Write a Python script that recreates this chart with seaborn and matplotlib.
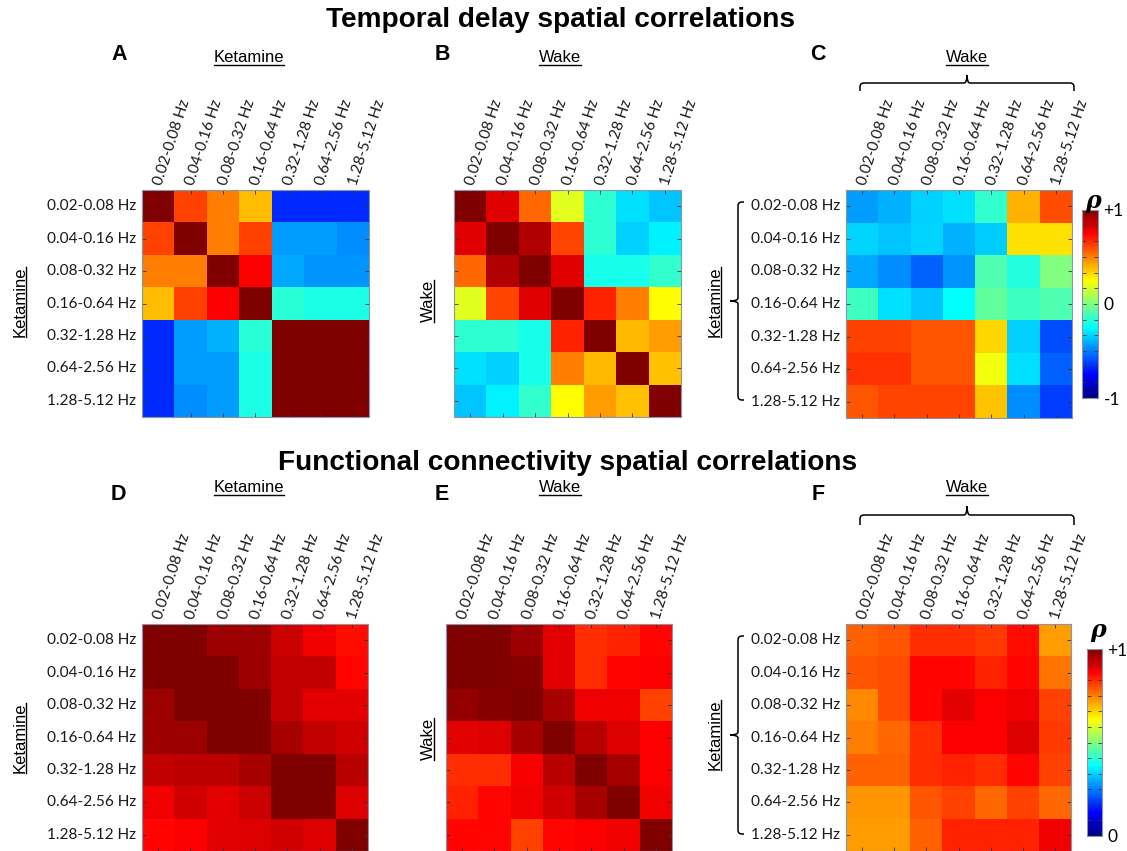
import numpy as np
import pandas as pd
import matplotlib
matplotlib.use("Agg")
import matplotlib.pyplot as plt
import seaborn as sns
from matplotlib.path import Path
from matplotlib.patches import PathPatch
from matplotlib.lines import Line2D
from matplotlib.colors import ListedColormap

# ---------------- data ----------------
freq_bands = ["0.02-0.08 Hz", "0.04-0.16 Hz", "0.08-0.32 Hz", "0.16-0.64 Hz",
              "0.32-1.28 Hz", "0.64-2.56 Hz", "1.28-5.12 Hz"]

# Temporal delay spatial correlations (rho, -1..+1)
td_ketamine = [
    [1.00, 0.62, 0.50, 0.38, -0.67, -0.67, -0.67],
    [0.62, 1.00, 0.50, 0.62, -0.44, -0.44, -0.47],
    [0.50, 0.50, 1.00, 0.75, -0.42, -0.46, -0.46],
    [0.38, 0.62, 0.75, 1.00, -0.17, -0.20, -0.20],
    [-0.67, -0.44, -0.40, -0.17, 1.00, 1.00, 1.00],
    [-0.67, -0.44, -0.44, -0.20, 1.00, 1.00, 1.00],
    [-0.67, -0.47, -0.44, -0.20, 1.00, 1.00, 1.00],
]
td_wake = [
    [1.00, 0.81, 0.54, 0.19, -0.16, -0.31, -0.36],
    [0.81, 1.00, 0.90, 0.61, -0.16, -0.34, -0.28],
    [0.54, 0.90, 1.00, 0.81, -0.21, -0.21, -0.15],
    [0.19, 0.61, 0.81, 1.00, 0.68, 0.50, 0.25],
    [-0.16, -0.16, -0.21, 0.68, 1.00, 0.39, 0.44],
    [-0.31, -0.34, -0.21, 0.50, 0.39, 1.00, 0.37],
    [-0.36, -0.28, -0.15, 0.25, 0.44, 0.37, 1.00],
]
td_ket_vs_wake = [
    [-0.44, -0.40, -0.34, -0.31, -0.15, 0.40, 0.60],
    [-0.33, -0.36, -0.33, -0.40, -0.35, 0.31, 0.31],
    [-0.42, -0.47, -0.56, -0.46, -0.10, -0.18, 0.00],
    [-0.13, -0.31, -0.36, -0.25, -0.06, -0.13, -0.10],
    [0.62, 0.62, 0.58, 0.58, 0.33, -0.34, -0.60],
    [0.65, 0.65, 0.58, 0.58, 0.22, -0.31, -0.56],
    [0.58, 0.61, 0.61, 0.61, 0.36, -0.47, -0.63],
]

# Functional connectivity spatial correlations (rho, 0..+1)
fc_ketamine = [
    [1.00, 1.00, 0.97, 0.97, 0.925, 0.89, 0.86],
    [1.00, 1.00, 1.00, 0.97, 0.93, 0.93, 0.87],
    [0.97, 1.00, 1.00, 1.00, 0.93, 0.90, 0.90],
    [0.97, 0.97, 1.00, 1.00, 0.96, 0.93, 0.92],
    [0.93, 0.94, 0.94, 0.96, 1.00, 1.00, 0.945],
    [0.89, 0.92, 0.90, 0.925, 1.00, 1.00, 0.91],
    [0.87, 0.875, 0.90, 0.91, 0.92, 0.91, 1.00],
]
fc_wake = [
    [1.00, 1.00, 0.97, 0.90, 0.83, 0.84, 0.87],
    [1.00, 1.00, 0.99, 0.90, 0.83, 0.87, 0.875],
    [0.98, 0.99, 1.00, 0.96, 0.89, 0.89, 0.81],
    [0.90, 0.91, 0.96, 1.00, 0.945, 0.91, 0.875],
    [0.83, 0.83, 0.88, 0.945, 1.00, 0.96, 0.875],
    [0.84, 0.87, 0.89, 0.92, 0.96, 1.00, 0.89],
    [0.87, 0.87, 0.81, 0.87, 0.875, 0.89, 1.00],
]
fc_ket_vs_wake = [
    [0.78, 0.79, 0.83, 0.83, 0.82, 0.86, 0.72],
    [0.79, 0.80, 0.87, 0.87, 0.84, 0.87, 0.76],
    [0.74, 0.80, 0.87, 0.90, 0.875, 0.89, 0.81],
    [0.75, 0.77, 0.83, 0.875, 0.875, 0.91, 0.82],
    [0.78, 0.78, 0.83, 0.84, 0.83, 0.87, 0.81],
    [0.73, 0.73, 0.79, 0.81, 0.77, 0.81, 0.77],
    [0.72, 0.72, 0.78, 0.84, 0.84, 0.84, 0.89],
]

section_titles = ["Temporal delay spatial correlations",
                  "Functional connectivity spatial correlations"]
panel_letters = ["A", "B", "C", "D", "E", "F"]
col_titles = ["Ketamine", "Wake", "Wake", "Ketamine", "Wake", "Wake"]
row_titles = ["Ketamine", "Wake", "Ketamine", "Ketamine", "Wake", "Ketamine"]

# MATLAB-style jet colormap
_t = np.linspace(0, 1, 256)
_r = np.clip(np.minimum(4 * _t - 1.5, -4 * _t + 4.5), 0, 1)
_g = np.clip(np.minimum(4 * _t - 0.5, -4 * _t + 3.5), 0, 1)
_b = np.clip(np.minimum(4 * _t + 0.5, -4 * _t + 2.5), 0, 1)
mjet = ListedColormap(np.column_stack([_r, _g, _b]), name="mjet")

# ---------------- figure ----------------
W, H = 1127, 851
plt.rcParams["font.family"] = ["Lato", "DejaVu Sans"]
fig = plt.figure(figsize=(W / 100, H / 100), dpi=100)

def fx(x):
    return x / W

def fy(y):
    return 1 - y / H

def add_axes_px(x, y, w, h):
    return fig.add_axes([fx(x), fy(y + h), w / W, h / H])

spine_col = "#8a96a8"
label_font = ["Liberation Sans", "DejaVu Sans"]

panels = [
    (td_ketamine, (142, 190, 227, 227), -1, 1, None, True),
    (td_wake, (454, 190, 227, 227), -1, 1, None, False),
    (td_ket_vs_wake, (846, 190, 226, 228), -1, 1, (1082, 210, 16, 188), True),
    (fc_ketamine, (142, 624, 226, 227), 0, 1, None, True),
    (fc_wake, (446, 624, 226, 227), 0, 1, None, False),
    (fc_ket_vs_wake, (846, 624, 225, 227), 0, 1, (1087, 649, 15, 187), True),
]

for i, (mat, (px, py, pw, ph), vmin, vmax, cbpos, ylabs) in enumerate(panels):
    ax = add_axes_px(px, py, pw, ph)
    df = pd.DataFrame(mat, index=freq_bands, columns=freq_bands)
    if cbpos is not None:
        cax = add_axes_px(*cbpos)
        kw = dict(cbar=True, cbar_ax=cax)
    else:
        kw = dict(cbar=False)
    sns.heatmap(df, ax=ax, cmap=mjet, vmin=vmin, vmax=vmax,
                xticklabels=freq_bands, yticklabels=freq_bands, **kw)
    ax.xaxis.tick_top()
    ax.tick_params(axis="both", direction="in", length=3, width=0.6,
                   color="#333333", top=True, bottom=True, left=True,
                   right=True, labeltop=True, labelbottom=False,
                   labelleft=ylabs, labelsize=11.1, pad=4,
                   labelcolor="#1a1a1a")
    for lab in ax.get_xticklabels():
        lab.set_rotation(72)
        lab.set_ha("left")
        lab.set_va("center")
        lab.set_rotation_mode("anchor")
    for lab in ax.get_yticklabels():
        lab.set_rotation(0)
    for sp in ax.spines.values():
        sp.set_visible(True)
        sp.set_color(spine_col)
        sp.set_linewidth(0.8)
    ax.set_xlabel("")
    ax.set_ylabel("")

    if cbpos is not None:
        cb = ax.collections[0].colorbar
        cax.set_yticks(np.linspace(vmin, vmax, 13))
        labs = [""] * 13
        if vmin < 0:
            labs[0], labs[6], labs[12] = "-1", "0", "+1"
        else:
            labs[0], labs[12] = "0", "+1"
        cax.set_yticklabels(labs)
        cax.tick_params(axis="y", direction="in", length=3, width=0.6,
                        color="#333333", left=True, right=True,
                        labelsize=12.5, pad=4)
        cb.outline.set_edgecolor(spine_col)
        cb.outline.set_linewidth(0.8)
        fig.text(fx(cbpos[0] + 11), fy(cbpos[1] - 9 if vmin < 0 else cbpos[1] - 19),
                 "ρ", fontsize=17, fontweight="bold", fontstyle="italic",
                 family=["DejaVu Serif"], ha="center", va="center")

# section titles
fig.text(fx(560), fy(20), section_titles[0], fontsize=20.2, fontweight="bold",
         family=label_font, ha="center", va="center")
fig.text(fx(568), fy(463), section_titles[1], fontsize=20.2, fontweight="bold",
         family=label_font, ha="center", va="center")

# panel letters
letter_pos = [(119, 55), (442, 55), (818, 55), (118, 495), (442, 495), (818, 495)]
for (lx, ly), L in zip(letter_pos, panel_letters):
    fig.text(fx(lx), fy(ly), L, fontsize=15.5, fontweight="bold",
             family=label_font, ha="center", va="center")

# underlined column / row titles
col_pos = [(249, 62), (560, 62), (967, 62), (249, 492), (560, 492), (967, 492)]
row_pos = [(20, 302), (428, 301), (715, 302), (20, 738), (428, 739), (715, 735)]
col_texts = []
row_texts = []
for (cx, cy), t in zip(col_pos, col_titles):
    col_texts.append(fig.text(fx(cx), fy(cy), t, fontsize=12, family=label_font,
                              ha="center", va="baseline"))
for (rx, ry), t in zip(row_pos, row_titles):
    row_texts.append(fig.text(fx(rx), fy(ry), t, fontsize=12, family=label_font,
                              ha="center", va="center", rotation=90))

fig.canvas.draw()
renderer = fig.canvas.get_renderer()
for t, (cx, cy) in zip(col_texts, col_pos):
    bb = t.get_window_extent(renderer)
    ybase = H - cy
    fig.add_artist(Line2D([bb.x0 / W, bb.x1 / W], [(ybase - 2.5) / H] * 2,
                          transform=fig.transFigure, color="black", lw=1.0))
for t in row_texts:
    bb = t.get_window_extent(renderer)
    xline = bb.x1 - 1.5
    fig.add_artist(Line2D([xline / W] * 2, [bb.y0 / H, bb.y1 / H],
                          transform=fig.transFigure, color="black", lw=1.0))

# braces
def draw_path(pts_codes):
    verts = [(fx(x), fy(y)) for (x, y), _ in pts_codes]
    codes = [c for _, c in pts_codes]
    fig.add_artist(PathPatch(Path(verts, codes), transform=fig.transFigure,
                             fill=False, edgecolor="black", lw=1.1))

def hbrace(x0, x1, y, tip, end, r=4):
    xm = (x0 + x1) / 2
    M, L, C = Path.MOVETO, Path.LINETO, Path.CURVE3
    draw_path([((x0, end), M), ((x0, y + r), L), ((x0, y), C), ((x0 + r, y), C),
               ((xm - 3, y), L), ((xm, y), C), ((xm, tip), C),
               ((xm, y), C), ((xm + 3, y), C),
               ((x1 - r, y), L), ((x1, y), C), ((x1, y + r), C),
               ((x1, end), L)])

def vbrace(x, y0, y1, tip, end, r=4):
    ym = (y0 + y1) / 2
    M, L, C = Path.MOVETO, Path.LINETO, Path.CURVE3
    draw_path([((end, y0), M), ((x + r, y0), L), ((x, y0), C), ((x, y0 + r), C),
               ((x, ym - 3), L), ((x, ym), C), ((tip, ym), C),
               ((x, ym), C), ((x, ym + 3), C),
               ((x, y1 - r), L), ((x, y1), C), ((x + r, y1), C),
               ((end, y1), L)])

hbrace(860, 1074, 83, 75, 91)
hbrace(860, 1074, 515, 506, 525)
vbrace(738, 202, 400, 730, 744)
vbrace(738, 636, 834, 730, 744)

fig.savefig("out.png", dpi=100)
